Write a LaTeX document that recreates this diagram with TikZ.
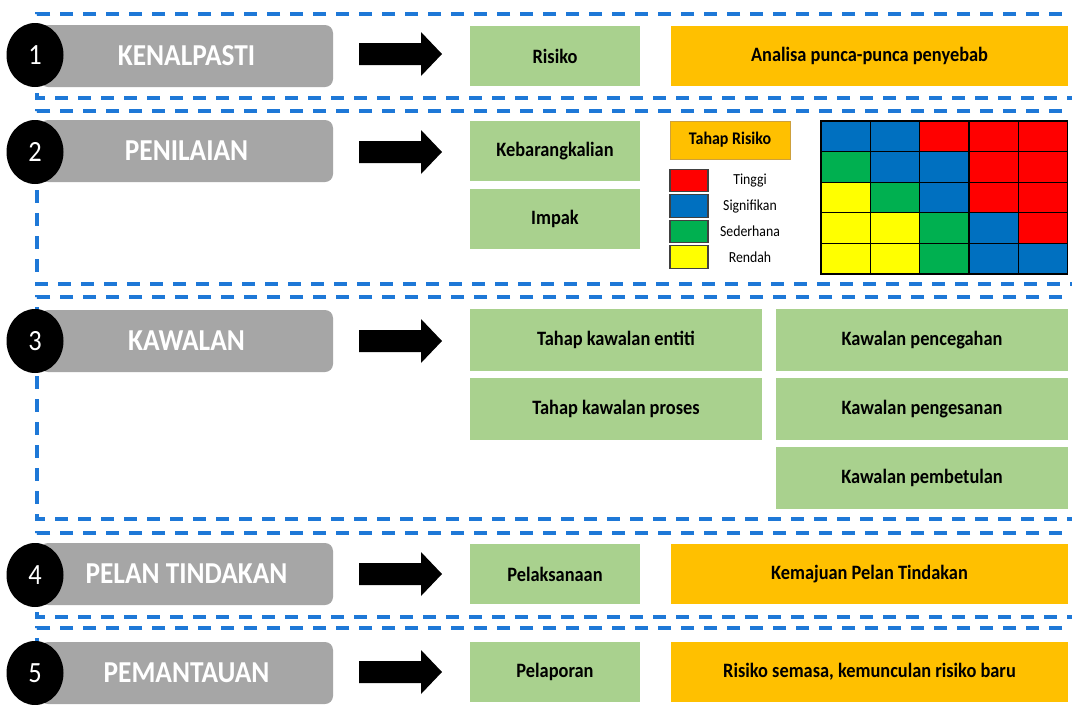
\documentclass[tikz,border=0pt]{standalone}
\usepackage{fontspec}
\setmainfont[FakeStretch=0.9]{Carlito}
\usetikzlibrary{shapes.geometric}
\definecolor{dashblue}{RGB}{30,120,215}
\definecolor{bargray}{RGB}{166,166,166}
\definecolor{boxgreen}{RGB}{169,209,142}
\definecolor{boxorange}{RGB}{255,192,0}
\definecolor{tahapedge}{RGB}{205,160,60}
\definecolor{mred}{RGB}{255,0,0}
\definecolor{mblue}{RGB}{0,112,192}
\definecolor{mgreen}{RGB}{0,176,80}
\definecolor{myellow}{RGB}{255,255,0}
\tikzset{
  frame/.style={draw=dashblue, line width=2.6pt, dash pattern=on 9.75pt off 7.5pt},
  bar/.style={rectangle, fill=bargray, rounded corners=6pt, minimum width=219.75pt, minimum height=46.5pt, inner sep=0pt, text=white, font=\fontsize{22.8}{26}\selectfont\bfseries},
  numdot/.style={ellipse, fill=black, minimum width=42.75pt, minimum height=48pt, inner sep=0pt, text=white, font=\fontsize{22}{26}\selectfont},
  boxtext/.style={rectangle, inner sep=0pt, font=\fontsize{15.3}{18}\selectfont\bfseries},
  sbox/.style={boxtext, fill=boxgreen, minimum width=127.5pt, minimum height=45pt},
  wbox/.style={boxtext, fill=boxorange, minimum width=297.75pt, minimum height=45pt},
  kbox/.style={boxtext, fill=boxgreen, minimum width=219pt, minimum height=46.5pt},
  tahap/.style={rectangle, inner sep=0pt, fill=boxorange, draw=tahapedge, line width=0.6pt, minimum width=90pt, minimum height=28.5pt, font=\fontsize{13.3}{16}\selectfont\bfseries},
  lsq/.style={rectangle, inner sep=0pt, draw=black!75, line width=0.8pt, minimum width=28.5pt, minimum height=17pt},
  ltext/.style={inner sep=0pt, font=\fontsize{11.5}{13}\selectfont},
  cell/.style={rectangle, inner sep=0pt, draw=black, line width=1pt, minimum width=36.975pt, minimum height=22.95pt},
  blockarrow/.pic={\fill[black] (0,-11) -- (62,-11) -- (62,-22) -- (83,0) -- (62,22) -- (62,11) -- (0,11) -- cycle;}
}
\begin{document}
\begin{tikzpicture}[x=0.75pt,y=-0.75pt]
\clip (0,0) rectangle (1072,704);
\fill[white] (0,0) rectangle (1072,704);

% dashed section frames
\foreach \t/\b in {14/98,111/284,297/519,533/617,628/760}
  \draw[frame] (1085,\t) -- (37,\t) -- (37,\b) -- (1085,\b);

% step bars
\node[bar] (bar1) at (186.5,56) {KENALPASTI};
\node[bar] (bar2) at (186.5,151) {PENILAIAN};
\node[bar] (bar3) at (186.5,341) {KAWALAN};
\node[bar] (bar4) at (186.5,574) {PELAN TINDAKAN};
\node[bar] (bar5) at (186.5,673) {PEMANTAUAN};

\node[numdot] (n1) at (35,55) {1};
\node[numdot] (n2) at (35,152) {2};
\node[numdot] (n3) at (35,341) {3};
\node[numdot] (n4) at (35,575) {4};
\node[numdot] (n5) at (35,673) {5};

% block arrows
\pic at (359,54) {blockarrow};
\pic at (359,152) {blockarrow};
\pic at (359,341) {blockarrow};
\pic at (359,574) {blockarrow};
\pic at (359,672) {blockarrow};

% section 1
\node[sbox] (risiko) at (555,56) {Risiko};
\node[wbox] (analisa) at (869.5,56) {Analisa punca-punca penyebab};

% section 2
\node[sbox] (keb) at (555,151) {Kebarangkalian};
\node[sbox] (impak) at (555,219) {Impak};
\node[tahap] (tahap) at (730,140) {Tahap Risiko};
\node[lsq, fill=mred] (lg1) at (689,180.5) {};
\node[lsq, fill=mblue] (lg2) at (689,206) {};
\node[lsq, fill=mgreen] (lg3) at (689,231.5) {};
\node[lsq, fill=myellow] (lg4) at (689,257) {};
\node[ltext] (lt1) at (750,180.5) {Tinggi};
\node[ltext] (lt2) at (750,206) {Signifikan};
\node[ltext] (lt3) at (750,231.5) {Sederhana};
\node[ltext] (lt4) at (750,257) {Rendah};

\foreach \row [count=\r] in {{mblue,mblue,mred,mred,mred},{mgreen,mblue,mblue,mred,mred},{myellow,mgreen,mblue,mred,mred},{myellow,myellow,mgreen,mblue,mred},{myellow,myellow,mgreen,mblue,mblue}}{
  \foreach \c [count=\k] in \row {
    \node[cell, fill=\c] (m-\r-\k) at ({821+49.3*(\k-0.5)},{121+30.6*(\r-0.5)}) {};
  }
}

% section 3
\node[kbox] (ke) at (616,340) {Tahap kawalan entiti};
\node[kbox] (kp) at (616,409) {Tahap kawalan proses};
\node[kbox] (kc) at (922,340) {Kawalan pencegahan};
\node[kbox] (kg) at (922,409) {Kawalan pengesanan};
\node[kbox] (kb) at (922,478) {Kawalan pembetulan};

% section 4
\node[sbox] (pel) at (555,574) {Pelaksanaan};
\node[wbox] (kem) at (869.5,574) {Kemajuan Pelan Tindakan};

% section 5
\node[sbox] (lap) at (555,672) {Pelaporan};
\node[wbox] (sem) at (869.5,672) {Risiko semasa, kemunculan risiko baru};
\end{tikzpicture}
\end{document}
